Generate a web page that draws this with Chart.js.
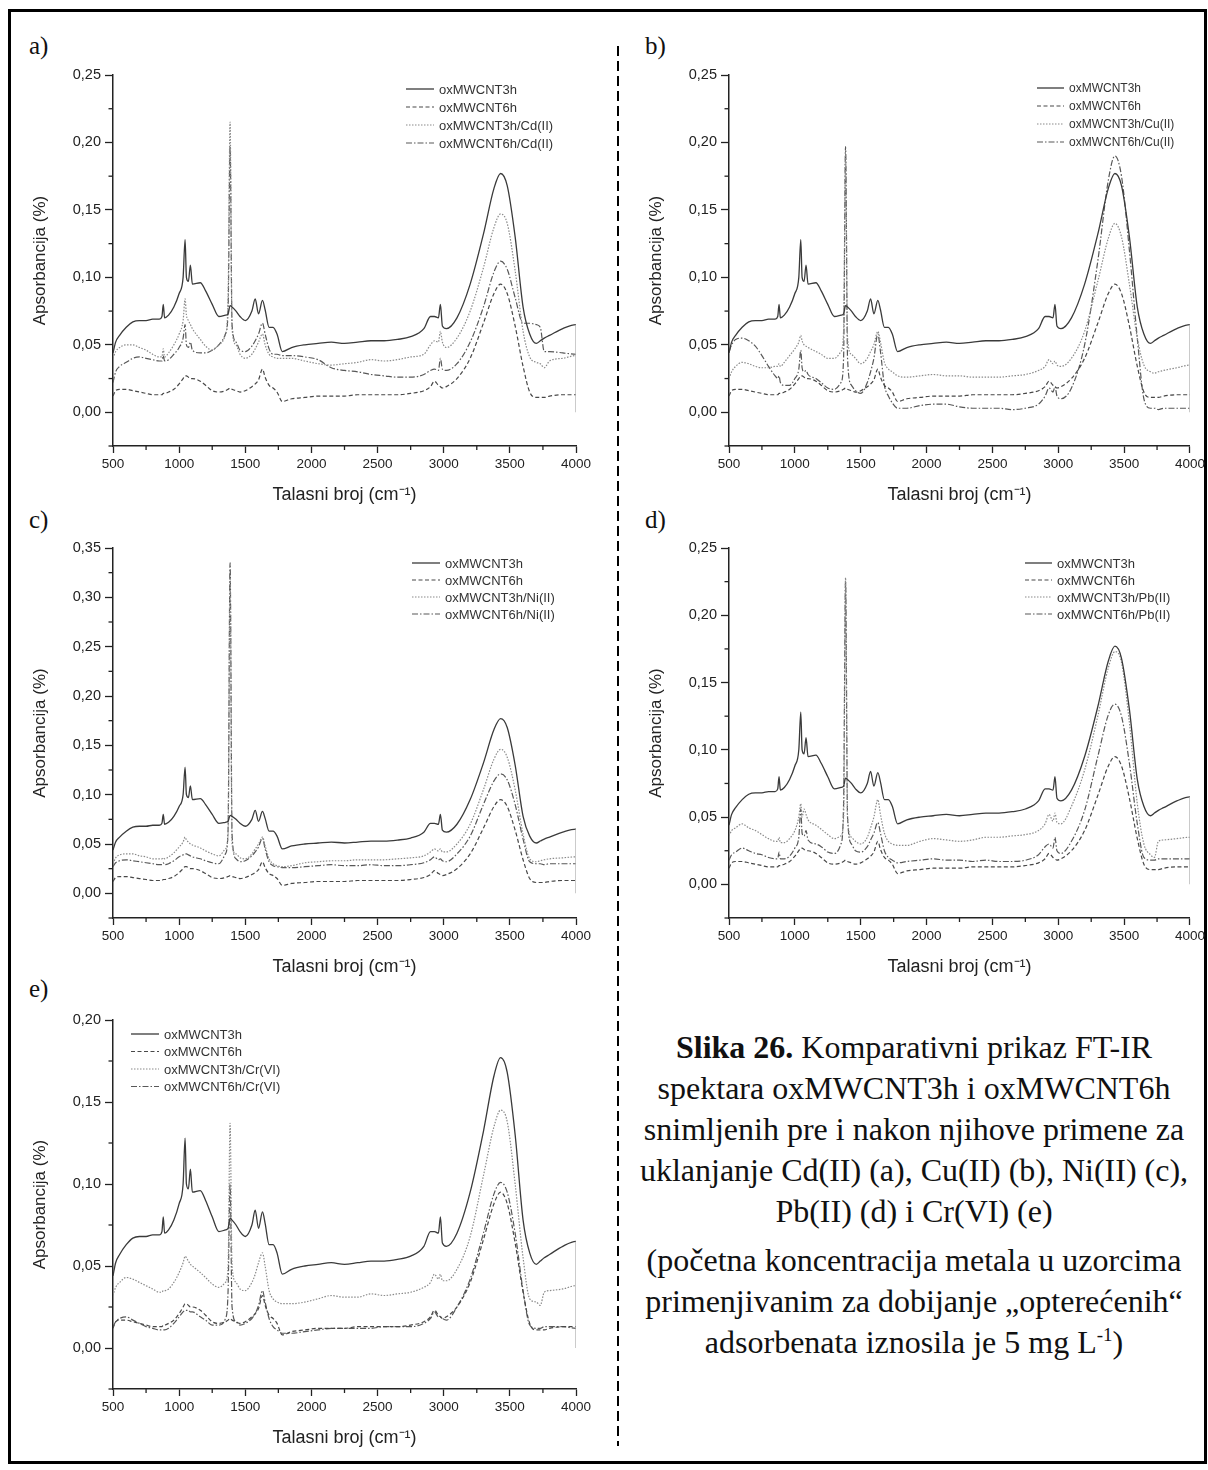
<!DOCTYPE html>
<html>
<head>
<meta charset="utf-8">
<script src="https://cdn.jsdelivr.net/npm/chart.js@4.4.1/dist/chart.umd.min.js"></script>
<style>
  body { margin: 0; background: #fff; width: 1208px; height: 1470px; position: relative; overflow: hidden; font-family: "Liberation Sans", Arial, sans-serif; }
  .frame { position: absolute; left: 8px; top: 9px; width: 1199px; height: 1455px; border: 3px solid #000; box-sizing: border-box; }
  .divider { position: absolute; left: 616px; top: 46px; }
  .lbl { position: absolute; font: 25px "Liberation Serif", "Times New Roman", serif; color: #111; line-height: 25px; }
  canvas { position: absolute; }
  .caption { position: absolute; left: 622px; top: 1027px; width: 584px; text-align: center; font: 32px "Liberation Serif", "Times New Roman", serif; line-height: 41px; color: #111; }
  .caption p { margin: 0; }
  .caption p + p { margin-top: 8px; }
  .caption sup { font-size: 19px; line-height: 0; }
</style>
</head>
<body>
<div class="frame"></div>
<svg class="divider" width="4" height="1400"><line x1="2" y1="0" x2="2" y2="1400" stroke="#000" stroke-width="2" stroke-dasharray="10 5"/></svg>

<div class="lbl" style="left:29px;top:33px">a)</div>
<div class="lbl" style="left:645px;top:33px">b)</div>
<div class="lbl" style="left:29px;top:507px">c)</div>
<div class="lbl" style="left:645px;top:507px">d)</div>
<div class="lbl" style="left:29px;top:976px">e)</div>

<canvas id="chartA" width="570" height="450" style="left:26px;top:60px"></canvas>
<canvas id="chartB" width="566" height="450" style="left:642px;top:60px"></canvas>
<canvas id="chartC" width="570" height="449" style="left:26px;top:533px"></canvas>
<canvas id="chartD" width="566" height="449" style="left:642px;top:533px"></canvas>
<canvas id="chartE" width="570" height="448" style="left:26px;top:1005px"></canvas>

<div class="caption">
  <p><b>Slika 26.</b> Komparativni prikaz FT-IR<br>spektara oxMWCNT3h i oxMWCNT6h<br>snimljenih pre i nakon njihove primene za<br>uklanjanje Cd(II) (a), Cu(II) (b), Ni(II) (c),<br>Pb(II) (d) i Cr(VI) (e)</p>
  <p>(početna koncentracija metala u uzorcima<br>primenjivanim za dobijanje „opterećenih“<br>adsorbenata iznosila je 5 mg L<sup>-1</sup>)</p>
</div>

<script>
// wavenumber grid (cm-1), denser around the sharp bands; the last 4000 is the end drop
const wavenumbers = [
  500, 520, 550, 600, 650, 700, 750, 800, 850, 870,
  880, 890, 920, 960, 1000, 1030, 1045, 1055, 1070, 1085,
  1100, 1160, 1200, 1250, 1300, 1350, 1370, 1385, 1400, 1430,
  1460, 1500, 1550, 1575, 1600, 1630, 1650, 1680, 1710, 1740,
  1780, 1850, 1950, 2050, 2150, 2250, 2350, 2450, 2550, 2650,
  2750, 2850, 2900, 2930, 2960, 2975, 2990, 3020, 3100, 3200,
  3300, 3380, 3430, 3480, 3540, 3600, 3650, 3700, 3730, 3760,
  3800, 3900, 4000, 4000
];

// reference spectra (same in every panel)
const oxMWCNT3h = [
  .044, .052, .057, .063, .067, .068, .068, .069, .069, .071,
  .080, .070, .072, .078, .088, .100, .128, .100, .097, .109,
  .095, .096, .090, .080, .071, .072, .073, .079, .078, .075,
  .071, .068, .075, .084, .073, .083, .076, .063, .063, .058,
  .045, .048, .050, .051, .052, .051, .052, .053, .053, .054,
  .056, .062, .071, .071, .070, .080, .064, .062, .070, .095,
  .132, .166, .177, .168, .130, .078, .058, .051, .053, .055,
  .057, .062, .065, .000
];
const oxMWCNT6h = [
  .012, .016, .017, .017, .016, .015, .014, .013, .013, .013,
  .014, .014, .015, .017, .021, .025, .027, .027, .026, .025,
  .025, .023, .020, .016, .015, .016, .017, .018, .017, .016,
  .015, .016, .019, .021, .024, .032, .026, .020, .018, .015,
  .008, .010, .011, .012, .012, .012, .013, .013, .013, .013,
  .014, .016, .019, .023, .020, .019, .018, .019, .025, .040,
  .066, .088, .095, .088, .064, .034, .015, .011, .011, .011,
  .012, .013, .013, .013
];

// a) Cd(II)
const cd3h = [
  .040, .045, .048, .050, .050, .048, .046, .043, .041, .041,
  .047, .041, .044, .050, .058, .068, .084, .072, .068, .065,
  .062, .054, .049, .046, .050, .058, .085, .215, .062, .050,
  .043, .040, .043, .047, .052, .058, .050, .043, .041, .040,
  .040, .040, .038, .036, .035, .036, .037, .039, .038, .039,
  .041, .043, .050, .053, .052, .060, .052, .048, .055, .075,
  .107, .137, .147, .140, .105, .060, .041, .037, .036, .033,
  .038, .040, .042, .042
];
const cd6h = [
  .022, .030, .034, .037, .040, .041, .040, .039, .038, .038,
  .042, .038, .039, .043, .048, .055, .065, .050, .048, .052,
  .046, .044, .044, .046, .050, .058, .075, .197, .065, .052,
  .046, .045, .049, .053, .058, .066, .058, .047, .043, .043,
  .042, .042, .041, .039, .033, .031, .030, .028, .027, .026,
  .026, .028, .031, .032, .031, .040, .032, .031, .036, .052,
  .078, .104, .112, .106, .085, .066, .066, .065, .063, .045,
  .045, .044, .043, .043
];

// b) Cu(II)
const cu3h = [
  .025, .030, .034, .037, .036, .034, .033, .033, .034, .034,
  .036, .034, .037, .042, .047, .052, .057, .053, .050, .049,
  .048, .045, .043, .040, .040, .045, .060, .190, .055, .043,
  .040, .036, .040, .045, .050, .060, .052, .037, .032, .030,
  .027, .026, .027, .028, .027, .027, .026, .026, .026, .027,
  .028, .031, .034, .039, .036, .038, .035, .034, .040, .060,
  .097, .129, .140, .130, .095, .055, .035, .030, .029, .030,
  .031, .033, .035, .035
];
const cu6h = [
  .045, .050, .054, .055, .053, .049, .042, .034, .027, .025,
  .027, .022, .020, .020, .025, .032, .046, .033, .030, .031,
  .028, .025, .022, .018, .017, .022, .040, .197, .040, .020,
  .016, .014, .022, .030, .040, .058, .045, .020, .012, .007,
  .003, .003, .005, .006, .006, .004, .003, .003, .003, .002,
  .003, .006, .012, .018, .015, .019, .012, .010, .018, .050,
  .112, .172, .190, .175, .120, .055, .010, .003, .003, .002,
  .003, .003, .003, .003
];

// c) Ni(II)
const ni3h = [
  .030, .036, .039, .040, .040, .038, .037, .035, .035, .035,
  .036, .035, .037, .041, .047, .052, .057, .054, .052, .050,
  .049, .046, .043, .040, .038, .045, .060, .320, .050, .040,
  .036, .035, .040, .045, .050, .057, .048, .035, .030, .028,
  .027, .028, .031, .032, .033, .033, .034, .034, .034, .035,
  .036, .038, .042, .045, .043, .045, .042, .042, .050, .070,
  .105, .136, .146, .138, .105, .060, .035, .032, .033, .034,
  .035, .036, .037, .037
];
const ni6h = [
  .027, .031, .033, .034, .033, .032, .031, .030, .029, .029,
  .031, .029, .030, .033, .037, .039, .040, .040, .039, .038,
  .037, .035, .033, .031, .030, .040, .065, .335, .060, .035,
  .032, .033, .038, .042, .047, .056, .045, .032, .028, .027,
  .026, .026, .027, .028, .029, .028, .028, .029, .028, .028,
  .029, .031, .034, .037, .034, .035, .033, .032, .040, .058,
  .090, .114, .121, .115, .090, .055, .032, .030, .030, .029,
  .030, .030, .030, .030
];

// d) Pb(II)
const pb3h = [
  .036, .040, .042, .045, .042, .040, .037, .034, .032, .032,
  .035, .031, .031, .034, .040, .050, .060, .050, .056, .052,
  .048, .044, .041, .037, .034, .036, .050, .228, .050, .035,
  .032, .030, .035, .042, .050, .063, .052, .038, .032, .030,
  .029, .029, .032, .034, .033, .032, .033, .035, .035, .036,
  .037, .040, .045, .052, .047, .053, .046, .045, .058, .085,
  .125, .161, .173, .165, .120, .060, .030, .022, .020, .032,
  .033, .034, .035, .035
];
const pb6h = [
  .018, .022, .024, .027, .025, .023, .022, .020, .019, .019,
  .024, .019, .019, .021, .027, .035, .056, .038, .036, .040,
  .033, .030, .028, .024, .023, .030, .060, .225, .050, .030,
  .025, .024, .028, .033, .038, .046, .038, .025, .020, .018,
  .016, .017, .018, .019, .018, .018, .017, .018, .017, .017,
  .018, .022, .028, .030, .027, .035, .025, .023, .032, .055,
  .095, .126, .134, .125, .090, .045, .020, .018, .018, .019,
  .019, .019, .019, .019
];

// e) Cr(VI)
const cr3h = [
  .032, .037, .040, .043, .042, .040, .038, .036, .034, .034,
  .035, .035, .036, .040, .046, .052, .056, .055, .053, .051,
  .050, .046, .043, .039, .037, .040, .050, .137, .050, .040,
  .036, .035, .040, .045, .052, .058, .050, .035, .030, .028,
  .027, .027, .028, .030, .032, .031, .031, .033, .032, .033,
  .034, .037, .040, .045, .042, .045, .041, .041, .048, .068,
  .105, .135, .145, .138, .100, .055, .030, .028, .026, .034,
  .035, .036, .038, .038
];
const cr6h = [
  .013, .016, .018, .019, .017, .015, .013, .012, .011, .011,
  .011, .011, .012, .015, .019, .022, .023, .023, .023, .022,
  .022, .019, .017, .014, .014, .018, .035, .100, .025, .016,
  .014, .015, .018, .021, .026, .035, .028, .018, .013, .011,
  .009, .009, .010, .011, .012, .012, .012, .012, .013, .013,
  .013, .015, .018, .022, .019, .019, .018, .017, .025, .042,
  .070, .094, .101, .095, .070, .035, .014, .012, .012, .013,
  .013, .013, .012, .012
];

const ions = ['Cd(II)', 'Cu(II)', 'Ni(II)', 'Pb(II)', 'Cr(VI)'];
const yMaxes = [0.25, 0.25, 0.35, 0.25, 0.20];

const FONT = '"Liberation Sans", Arial, sans-serif';

function toPoints(arr) {
  return wavenumbers.map((w, i) => ({ x: w, y: arr[i] }));
}

function isMajorY(v) {
  return Math.round(v * 1000) % 50 === 0;
}

// draws the in-plot legend with line samples
const legendLines = {
  id: 'legendLines',
  afterDatasetsDraw(chart, args, opts) {
    const { ctx, chartArea } = chart;
    ctx.save();
    chart.data.datasets.forEach((ds, i) => {
      const y = chartArea.top + opts.y + i * opts.gap;
      const x0 = chartArea.left + opts.x;
      ctx.strokeStyle = ds.borderColor;
      ctx.lineWidth = ds.borderWidth;
      ctx.setLineDash(ds.borderDash);
      ctx.beginPath();
      ctx.moveTo(x0, y);
      ctx.lineTo(x0 + opts.len, y);
      ctx.stroke();
      ctx.setLineDash([]);
      ctx.fillStyle = '#333';
      ctx.font = opts.size + 'px ' + FONT;
      ctx.textBaseline = 'middle';
      ctx.fillText(ds.label, x0 + opts.len + 5, y + 1);
    });
    ctx.restore();
  }
};

// short minor ticks between the labelled ones
const minorTicks = {
  id: 'minorTicks',
  afterDraw(chart) {
    const { ctx, scales } = chart;
    const x = scales.x, y = scales.y;
    ctx.save();
    ctx.strokeStyle = '#222';
    ctx.lineWidth = 1.3;
    x.ticks.forEach(t => {
      if (t.value % 500 !== 0) {
        const p = x.getPixelForValue(t.value);
        ctx.beginPath(); ctx.moveTo(p, x.top); ctx.lineTo(p, x.top + 4); ctx.stroke();
      }
    });
    y.ticks.forEach(t => {
      if (!isMajorY(t.value)) {
        const p = y.getPixelForValue(t.value);
        ctx.beginPath(); ctx.moveTo(y.right, p); ctx.lineTo(y.right - 4.5, p); ctx.stroke();
      }
    });
    ctx.restore();
  }
};

// the vertical drop at 4000 is drawn lighter
const endDrop = c => (c.p0.parsed.x === c.p1.parsed.x ? '#b0b0b0' : undefined);

function makePanel(id, idx, d3, d6, legend, padRight) {
  const ion = ions[idx];
  const datasets = [
    { label: 'oxMWCNT3h', data: toPoints(oxMWCNT3h), borderColor: '#3a3a3a', borderWidth: 1.3, borderDash: [], segment: { borderColor: endDrop } },
    { label: 'oxMWCNT6h', data: toPoints(oxMWCNT6h), borderColor: '#484848', borderWidth: 1.2, borderDash: [4, 2.5] },
    { label: 'oxMWCNT3h/' + ion, data: toPoints(d3), borderColor: '#8a8a8a', borderWidth: 1.2, borderDash: [1.5, 1.5] },
    { label: 'oxMWCNT6h/' + ion, data: toPoints(d6), borderColor: '#585858', borderWidth: 1.2, borderDash: [6, 2, 1.5, 2] }
  ];
  new Chart(document.getElementById(id), {
    type: 'line',
    data: { datasets },
    plugins: [legendLines, minorTicks],
    options: {
      responsive: false,
      animation: false,
      devicePixelRatio: 1,
      layout: { padding: { top: 15, right: padRight, left: 0, bottom: 0 } },
      elements: { point: { radius: 0 }, line: { cubicInterpolationMode: 'monotone', fill: false } },
      plugins: {
        legend: { display: false },
        tooltip: { enabled: false },
        legendLines: legend
      },
      scales: {
        x: {
          type: 'linear',
          min: 500, max: 4000,
          afterFit(s) { s.height = 64; },
          ticks: {
            stepSize: 250, autoSkip: false, maxRotation: 0, padding: 3,
            color: '#222', font: { family: FONT, size: 13.5 },
            callback: v => (v % 500 === 0 ? String(v) : '')
          },
          grid: {
            drawOnChartArea: false, drawTicks: true, tickLength: 7, tickWidth: 1.3,
            tickColor: c => (c.tick && c.tick.value % 500 === 0 ? '#222' : 'rgba(0,0,0,0)')
          },
          border: { color: '#222', width: 1.5 },
          title: { display: true, text: 'Talasni broj (cm⁻¹)', color: '#222', font: { family: FONT, size: 18 }, padding: { top: 4, bottom: 4 } }
        },
        y: {
          min: -0.025, max: yMaxes[idx],
          afterFit(s) { s.width = 87; },
          ticks: {
            stepSize: 0.025, padding: 4,
            color: '#222', font: { family: FONT, size: 14.5 },
            callback: v => (isMajorY(v) ? v.toFixed(2).replace('.', ',') : '')
          },
          grid: {
            drawOnChartArea: false, drawTicks: true, tickLength: 8, tickWidth: 1.3,
            tickColor: c => (c.tick && isMajorY(c.tick.value) ? '#222' : 'rgba(0,0,0,0)')
          },
          border: { color: '#222', width: 1.5 },
          title: { display: true, text: 'Apsorbancija (%)', color: '#222', font: { family: FONT, size: 17 }, padding: { top: 4, bottom: 4 } }
        }
      }
    }
  });
}

makePanel('chartA', 0, cd3h, cd6h, { x: 293, y: 14, gap: 18, len: 28, size: 13 }, 20);
makePanel('chartB', 1, cu3h, cu6h, { x: 308, y: 13, gap: 18, len: 27, size: 12 }, 16);
makePanel('chartC', 2, ni3h, ni6h, { x: 299, y: 15, gap: 17, len: 28, size: 13 }, 20);
makePanel('chartD', 3, pb3h, pb6h, { x: 296, y: 15, gap: 17, len: 27, size: 13 }, 16);
makePanel('chartE', 4, cr3h, cr6h, { x: 18, y: 14, gap: 17.5, len: 28, size: 13 }, 20);
</script>
</body>
</html>
